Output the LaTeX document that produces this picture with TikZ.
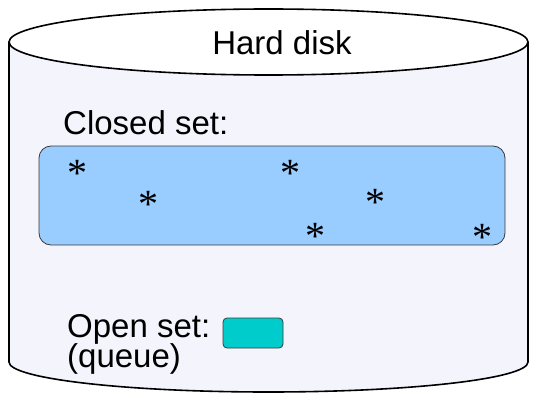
\documentclass[tikz,border=0pt]{standalone}
\usepackage{fontspec}
\setmainfont{Liberation Sans}
\newfontfamily\starfont{Liberation Serif}
\definecolor{diskbg}{HTML}{F4F4FD}
\definecolor{closedblue}{HTML}{99CCFF}
\definecolor{queueteal}{HTML}{00CCCC}
\definecolor{boxedge}{HTML}{3A3A3A}
\begin{document}
\begin{tikzpicture}[x=1pt,y=-1pt,
  lbl/.style={inner sep=0pt, anchor=base west, font=\fontsize{33}{36}\selectfont},
  star/.style={inner sep=0pt, font=\starfont\fontsize{40}{44}\selectfont, yshift=-5pt},
  setbox/.style={draw=boxedge, line width=0.8pt, rounded corners=12pt}]
\useasboundingbox (0,0) rectangle (535,393);
% cylinder body
\path[fill=diskbg, draw=black, line width=1.6pt]
  (9,42) -- (9,362) arc[start angle=180, end angle=0, x radius=259.5, y radius=30]
  -- (528,42);
\draw[fill=white, line width=1.6pt] (268.5,42) ellipse[x radius=259.5, y radius=33];
\node[lbl, anchor=base] (hd) at (282,55) {Hard disk};
% closed set
\node[lbl] (cl) at (63,135) {Closed set:};
\node[setbox, fill=closedblue, minimum width=466pt, minimum height=99pt, inner sep=0pt] (closed) at (272,195.5) {};
\node[star] (s1) at (77,168) {*};
\node[star] (s2) at (148,199) {*};
\node[star] (s3) at (290,168) {*};
\node[star] (s4) at (375,197) {*};
\node[star] (s5) at (315,231) {*};
\node[star] (s6) at (482,232) {*};
% open set
\node[lbl] (op) at (67,337) {Open set:};
\node[lbl] (qu) at (67,367) {(queue)};
\node[setbox, fill=queueteal, rounded corners=4pt, minimum width=60pt, minimum height=30pt, inner sep=0pt] (queue) at (253,333) {};
\end{tikzpicture}
\end{document}
